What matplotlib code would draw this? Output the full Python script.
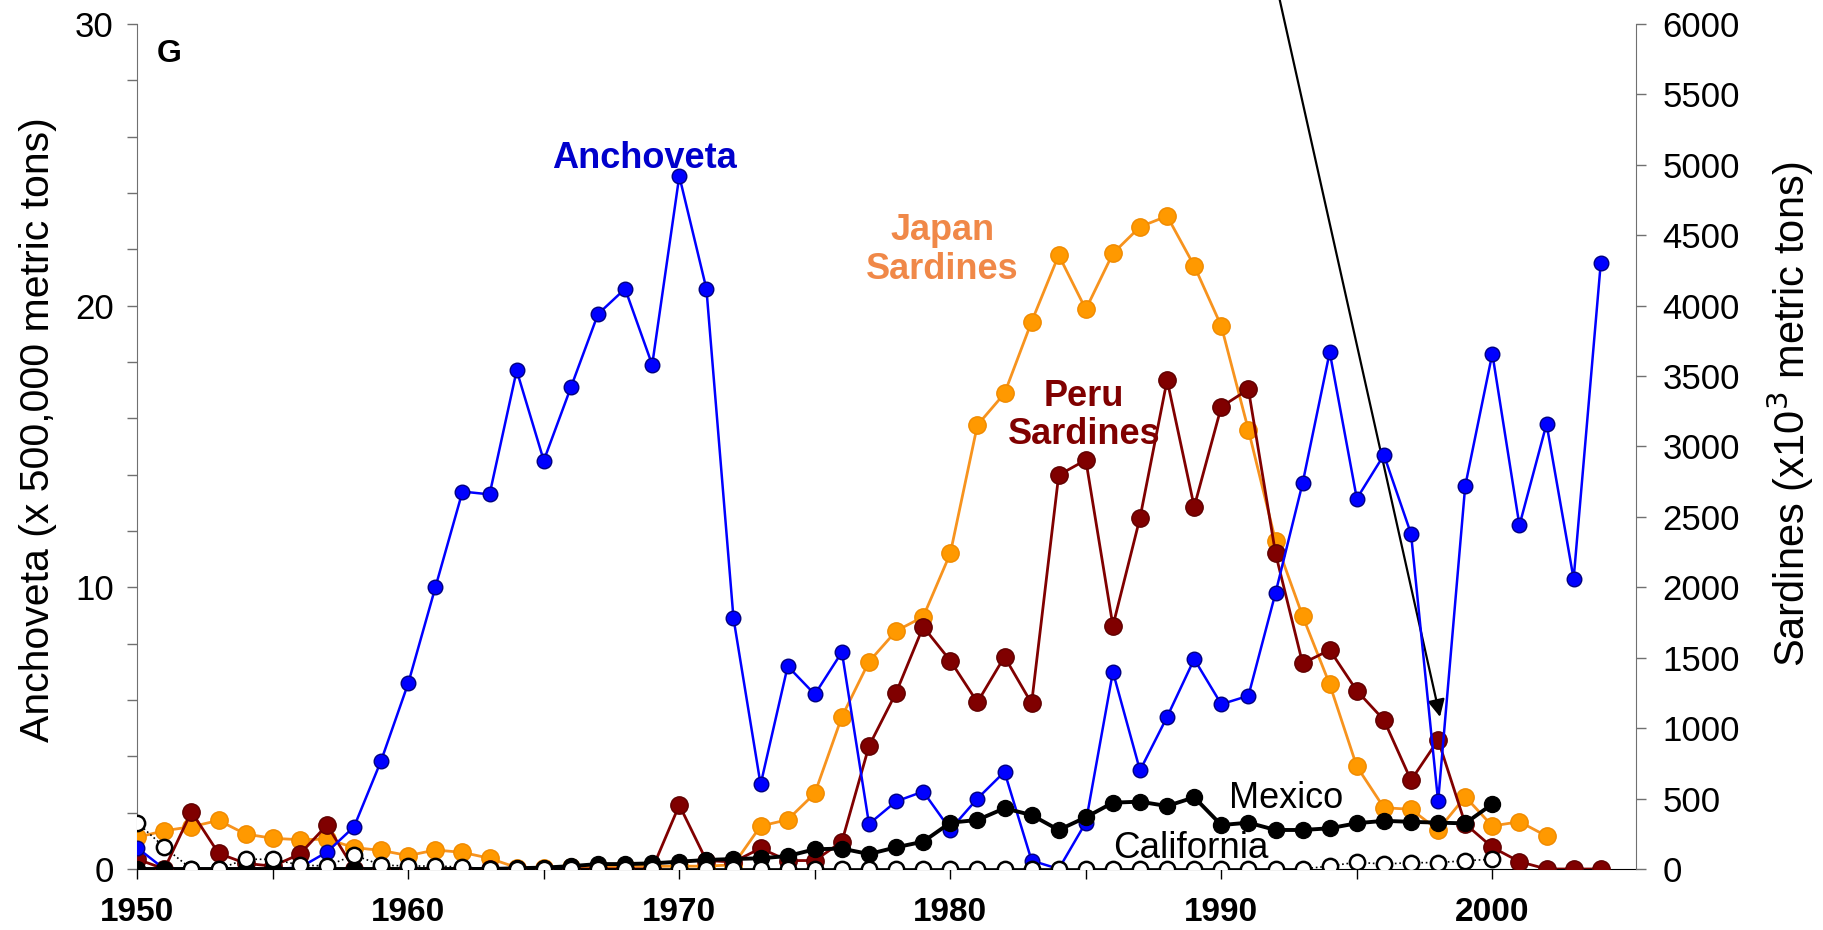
import numpy as np
import matplotlib
matplotlib.use('Agg')
import matplotlib.pyplot as plt

plt.rcParams['font.family'] = ['Liberation Sans', 'DejaVu Sans']

# catch series (anchoveta on the left axis, sardines on the right)
years = np.arange(1950, 2005)

anchoveta = [0.75, 0.0, 0.0, 0.0, 0.0, 0.0, 0.05, 0.6, 1.5, 3.85,
             6.6, 10.0, 13.4, 13.3, 17.7, 14.5, 17.1, 19.7, 20.6, 17.9,
             24.6, 20.6, 8.9, 3.0, 7.2, 6.2, 7.7, 1.6, 2.4, 2.75,
             1.4, 2.5, 3.45, 0.3, 0.0, 1.65, 7.0, 3.5, 5.4, 7.45,
             5.85, 6.15, 9.8, 13.7, 18.35, 13.15, 14.7, 11.9, 2.4, 13.6,
             18.3, 12.2, 15.8, 10.3, 21.5]

japan = [225, 272, 300, 345, 248, 218, 208, 212, 152, 132,
         95, 135, 118, 76, 10, 10, 12, 15, 18, 18,
         20, 20, 30, 305, 350, 537, 1081, 1472, 1690, 1791,
         2241, 3152, 3377, 3886, 4359, 3974, 4371, 4560, 4636, 4283,
         3855, 3117, 2331, 1796, 1311, 728, 435, 424, 277, 513,
         305, 336, 234]

peru = [70, 0, 407, 111, 40, 20, 106, 312, 0, 0,
        0, 0, 0, 0, 0, 0, 0, 0, 0, 0,
        454, 60, 50, 147, 60, 60, 194, 873, 1252, 1720,
        1479, 1184, 1507, 1176, 2797, 2904, 1727, 2494, 3472, 2572,
        3282, 3406, 2241, 1460, 1555, 1266, 1058, 630, 916, 320,
        154, 52, 0, 0, 0]

mexico = [0, 0, 0, 0, 0, 0, 0, 0, 0, 0,
          0, 0, 0, 0, 5, 10, 20, 35, 35, 40,
          52, 64, 71, 76, 92, 140, 145, 106, 154, 194,
          329, 348, 431, 383, 277, 367, 471, 478, 447, 509,
          312, 329, 277, 277, 289, 325, 342, 335, 329, 324,
          461]

california = [329, 154, 0, 0, 69, 69, 28, 21, 99, 28,
              21, 21, 14, 0, 0, 0, 0, 0, 0, 0,
              0, 0, 0, 0, 0, 0, 0, 0, 0, 0,
              0, 0, 0, 0, 0, 0, 0, 0, 0, 0,
              0, 0, 0, 0, 21, 48, 35, 45, 45, 59,
              69]

fig = plt.figure(figsize=(18.23, 9.30), dpi=100)
ax = fig.add_axes([0.0753, 0.0656, 0.8221, 0.9086])
ax2 = ax.twinx()

ax.set_xlim(1950, 2005.3)
ax.set_ylim(0, 30)
ax2.set_ylim(0, 6000)

# sardines
ax2.plot(years[:len(japan)], japan, '-o', color='#F7931E', lw=2.0,
         ms=12.5, mfc='#FF9900', mec='#F08A00', zorder=3)
ax2.plot(years[:len(peru)], peru, '-o', color='#800000', lw=2.0,
         ms=12.5, mfc='#800000', mec='#600000', zorder=4)
# anchoveta uses the left scale but sits in the same stack
ax2.plot(years, anchoveta, '-o', color='#0000FF', lw=1.8, ms=10.5,
         mfc='#0000FF', mec='#000080', transform=ax.transData, zorder=5)
ax2.plot(years[:len(mexico)], mexico, '-o', color='black', lw=2.8,
         ms=11.5, mfc='black', mec='black', zorder=6)

ca_years = years[:len(california)]
ca = np.array(california)
ax2.plot(ca_years[:13], ca[:13], ':', color='black', lw=1.2, zorder=7)
ax2.plot(ca_years[12:44], ca[12:44], '-', color='black', lw=1.2, zorder=7)
ax2.plot(ca_years[43:], ca[43:], ':', color='black', lw=1.2, zorder=7)
ax2.plot(ca_years, ca, 'o', ms=11, mfc='white', mec='black', mew=1.8,
         zorder=8)

# axes styling
for a in (ax, ax2):
    a.spines['top'].set_visible(False)
ax.spines['left'].set_color('#707070')
ax2.spines['right'].set_color('#707070')
ax2.spines['left'].set_visible(False)
ax.spines['right'].set_visible(False)
ax.spines['bottom'].set_color('black')
ax2.spines['bottom'].set_visible(False)

ax.set_xticks(np.arange(1950, 2005, 5), minor=True)
ax.set_xticks(np.arange(1950, 2001, 10))
ax.set_xticklabels([str(y) for y in range(1950, 2001, 10)],
                   fontsize=24, fontweight='bold')
ax.tick_params(axis='x', which='both', direction='out', length=7,
               width=1, color='black', pad=13)

ax.set_yticks([0, 10, 20, 30])
ax.set_yticks(np.arange(0, 31, 2), minor=True)
ax.tick_params(axis='y', which='both', direction='out', length=7,
               width=1, color='#707070', labelsize=25, pad=10)

ax2.set_yticks(np.arange(0, 6001, 500))
ax2.tick_params(axis='y', direction='out', length=7, width=1,
                color='#707070', labelsize=25, pad=12)

ax.set_ylabel('Anchoveta (x 500,000 metric tons)', fontsize=29.5,
              labelpad=13)
ax.yaxis.label.set_y(0.52)
ax2.set_ylabel('Sardines (x10$^3$ metric tons)', fontsize=30, labelpad=18)
ax2.yaxis.label.set_y(0.538)

# series labels
ax.text(1968.7, 24.9, 'Anchoveta', color='#0000CC', fontsize=26,
        fontweight='bold', ha='center', va='baseline')
ax.text(1979.7, 21.98, 'Japan\nSardines', color='#F08848', fontsize=26,
        fontweight='bold', ha='center', va='center', linespacing=1.16)
ax.text(1984.93, 16.09, 'Peru\nSardines', color='#800000', fontsize=26,
        fontweight='bold', ha='center', va='center', linespacing=1.12)
ax.text(1990.3, 2.17, 'Mexico', color='black', fontsize=26,
        ha='left', va='baseline')
ax.text(1986.0, 0.39, 'California', color='black', fontsize=26.5,
        ha='left', va='baseline')
ax.text(0.021, 0.964, 'G', transform=ax.transAxes, fontsize=23,
        fontweight='bold', ha='center', va='center')

# arrow pointing at the 1998 drop
ax.annotate('', xy=(1998.07, 5.4), xycoords='data',
            xytext=(0.702, 1.0), textcoords='figure fraction',
            arrowprops=dict(arrowstyle='-|>', color='black', lw=1.6,
                            mutation_scale=26, shrinkA=0, shrinkB=0),
            annotation_clip=False)

fig.savefig('out.png', dpi=100, facecolor='white')
